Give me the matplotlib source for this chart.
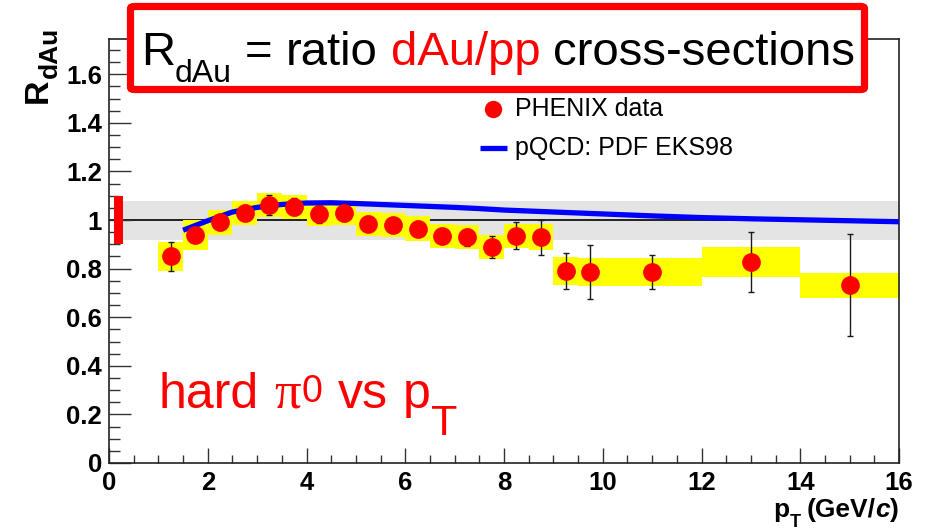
import matplotlib
matplotlib.use("Agg")
import matplotlib.pyplot as plt
from matplotlib.patches import FancyBboxPatch
from matplotlib.lines import Line2D

plt.rcParams["font.family"] = ["Liberation Sans", "DejaVu Sans"]

# PHENIX pi0 nuclear modification factor in d+Au
pt = [1.25, 1.75, 2.25, 2.75, 3.25, 3.75, 4.25, 4.75, 5.25, 5.75, 6.25,
      6.75, 7.25, 7.75, 8.25, 8.75, 9.25, 9.75, 11.0, 13.0, 15.0]
rdau = [0.85, 0.94, 0.99, 1.03, 1.062, 1.055, 1.025, 1.03, 0.985, 0.98, 0.965,
        0.935, 0.93, 0.89, 0.935, 0.93, 0.79, 0.787, 0.787, 0.827, 0.732]
stat_err = [0.06, 0.03, 0.03, 0.03, 0.04, 0.035, 0.038, 0.035, 0.03, 0.03, 0.03,
            0.03, 0.035, 0.045, 0.055, 0.072, 0.075, 0.11, 0.07, 0.123, 0.21]
syst_err = [0.058, 0.062, 0.052, 0.05, 0.05, 0.05, 0.05, 0.05, 0.05, 0.05, 0.05,
            0.05, 0.05, 0.05, 0.05, 0.055, 0.057, 0.057, 0.057, 0.06, 0.052]
bin_width = [0.5, 0.5, 0.5, 0.5, 0.5, 0.5, 0.5, 0.5, 0.5, 0.5, 0.5,
             0.5, 0.5, 0.5, 0.5, 0.5, 0.5, 0.5, 2.0, 2.0, 2.0]
norm_err = 0.10
band_lo, band_hi = 0.918, 1.078

# pQCD calculation with EKS98 nuclear PDFs
theory_pt = [1.5, 2.0, 2.5, 3.0, 3.5, 4.0, 4.5, 5.0, 5.5, 6.0, 6.5, 7.0, 7.5,
             8.0, 9.0, 10.0, 11.0, 12.0, 13.0, 14.0, 15.0, 16.0]
theory_r = [0.958, 0.997, 1.033, 1.052, 1.064, 1.070, 1.071, 1.068, 1.064,
            1.060, 1.056, 1.052, 1.047, 1.041, 1.033, 1.025, 1.017, 1.010,
            1.005, 1.001, 0.997, 0.993]

xticks = [0, 2, 4, 6, 8, 10, 12, 14, 16]
yticks = [0, 0.2, 0.4, 0.6, 0.8, 1.0, 1.2, 1.4, 1.6]
ytick_labels = ["0", "0.2", "0.4", "0.6", "0.8", "1", "1.2", "1.4", "1.6"]

W, H = 927, 530
fig = plt.figure(figsize=(W / 100, H / 100), dpi=100)


def fx(x):
    return x / W


def fy(y):
    return 1 - y / H


ax = fig.add_axes([fx(109), fy(463), fx(899 - 109), (463 - 39) / H])
ax.set_xlim(0, 16)
ax.set_ylim(0, 1.745)

# normalisation band and unity reference
ax.fill_between([0.1, 16], band_lo, band_hi, color="#e4e4e4", lw=0, zorder=1)
ax.axhline(1.0, color="black", lw=1.2, zorder=1.5)
ax.bar([0.195], [2 * norm_err], width=0.19, bottom=1 - norm_err,
       color="#ff0000", lw=0, zorder=2)

# systematic boxes
ax.bar(pt, [2 * s for s in syst_err], width=bin_width,
       bottom=[r - s for r, s in zip(rdau, syst_err)],
       color="#ffff00", lw=0, zorder=2)

ax.plot(theory_pt, theory_r, color="#0000ff", lw=3.8, zorder=3,
        solid_capstyle="butt")
ax.errorbar(pt, rdau, yerr=stat_err, fmt="none", ecolor="#1a1a1a",
            elinewidth=1.0, capsize=2.5, capthick=1.0, zorder=4)
ax.plot(pt, rdau, "o", color="#ff0000", ms=13.5, mew=0, zorder=5)

ax.set_xticks(xticks)
ax.set_xticklabels([str(v) for v in xticks], fontweight="bold", fontsize=18.5)
ax.set_xticks([x / 2 for x in range(0, 33)], minor=True)
ax.set_yticks(yticks)
ax.set_yticklabels(ytick_labels, fontweight="bold", fontsize=18.5)
ax.set_yticks([y / 20 for y in range(0, 35)], minor=True)
ax.tick_params(axis="both", which="both", direction="in", top=False,
               right=False, width=1.0, color="#333333")
ax.tick_params(axis="y", which="major", length=16, pad=5)
ax.tick_params(axis="y", which="minor", length=8)
ax.tick_params(axis="x", which="major", length=11, pad=6)
ax.tick_params(axis="x", which="minor", length=5.5)
for sp in ax.spines.values():
    sp.set_linewidth(1.2)
    sp.set_color("#222222")

# legend
fig.add_artist(Line2D([fx(493)], [fy(109)], marker="o", color="#ff0000",
                      ms=12.5, mew=0, transform=fig.transFigure))
fig.add_artist(Line2D([fx(480), fx(507)], [fy(148), fy(148)], color="#0000ff",
                      lw=3.8, solid_capstyle="butt", transform=fig.transFigure))
fig.text(fx(515), fy(109), "PHENIX data", fontsize=18, va="center", ha="left")
fig.text(fx(515), fy(148), "pQCD: PDF EKS98", fontsize=18, va="center",
         ha="left")

# headline box
fig.add_artist(FancyBboxPatch((fx(130.5), fy(89.5)), fx(864.5 - 130.5),
                              (89.5 - 6.5) / H,
                              boxstyle="round,pad=0,rounding_size=0.004",
                              transform=fig.transFigure, fc="white",
                              ec="#ff0000", lw=5.2, zorder=10))

renderer = fig.canvas.get_renderer()


def text_run(x0, y0, pieces, rotated=False):
    """Lay out text pieces along one baseline (pixel coordinates, y down).

    Each piece: (string, gap_before_px, baseline_shift_px, text kwargs).
    """
    placed = []
    pos = y0 if rotated else x0
    for s, gap, shift, kw in pieces:
        if rotated:
            pos -= gap
            t = fig.text(fx(x0 + shift), fy(pos), s, rotation=90,
                         rotation_mode="anchor", ha="left", va="baseline",
                         **kw)
            pos -= t.get_window_extent(renderer).height
        else:
            pos += gap
            t = fig.text(fx(pos), fy(y0 + shift), s, ha="left",
                         va="baseline", **kw)
            pos = t.get_window_extent(renderer).x1
        placed.append(t)
    return placed


# headline
big = dict(fontsize=34, zorder=11)
sub = dict(fontsize=23, zorder=11)
text_run(141, 65, [
    ("R", 0, 0, big),
    ("dAu", 0, 17, sub),
    ("=", 13, 0, big),
    ("ratio", 13, 0, big),
    ("dAu/pp", 13, 0, dict(big, color="#ff0000")),
    ("cross-sections", 13, 0, big),
])

# in-plot annotation
red = "#ff0000"
text_run(159, 408, [
    ("hard", 0, 0, dict(fontsize=36, color=red)),
    ("\u03c0", 15, 0, dict(fontsize=38, color=red,
                           family=["Liberation Serif", "DejaVu Serif"])),
    ("0", 1, -6, dict(fontsize=27, color=red)),
    ("vs", 15, 0, dict(fontsize=36, color=red)),
    ("p", 15, 0, dict(fontsize=36, color=red)),
    ("T", 1, 27, dict(fontsize=31, color=red)),
])

# y-axis title
text_run(47, 103, [
    ("R", 0, 0, dict(fontsize=24.5, fontweight="bold")),
    ("dAu", 0, 10, dict(fontsize=19, fontweight="bold")),
], rotated=True)

# x-axis title, right-aligned to the axis end
xl = text_run(0, 517, [
    ("p", 0, 0, dict(fontsize=19, fontweight="bold")),
    ("T", 0, 10, dict(fontsize=13, fontweight="bold")),
    ("(GeV/", 6, 0, dict(fontsize=19, fontweight="bold")),
    ("c", 0, 0, dict(fontsize=19, fontweight="bold", fontstyle="italic")),
    (")", 0, 0, dict(fontsize=19, fontweight="bold")),
])
right = max(t.get_window_extent(renderer).x1 for t in xl)
for t in xl:
    px, py = t.get_position()
    t.set_position((px + (899 - right) / W, py))

fig.savefig("out.png", dpi=100)
